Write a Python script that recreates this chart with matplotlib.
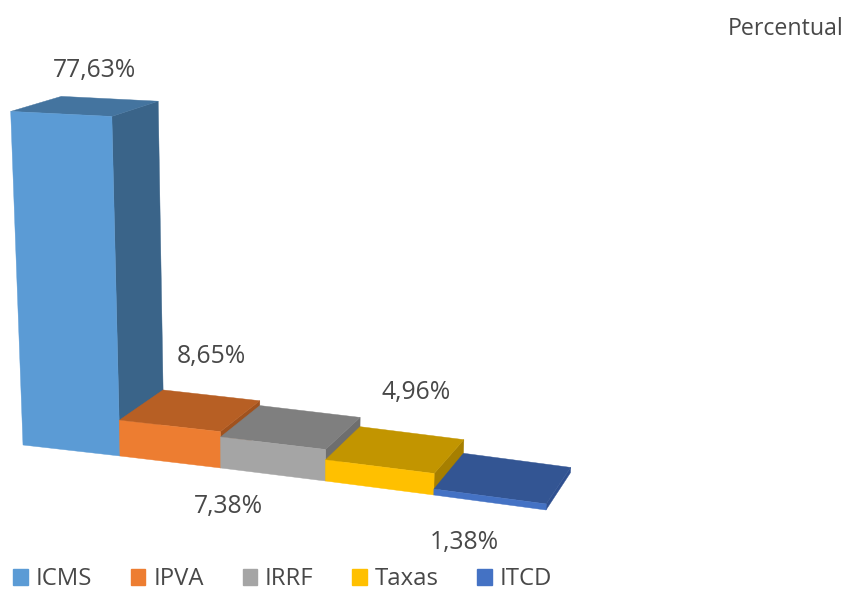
import matplotlib
matplotlib.use("Agg")
import matplotlib.pyplot as plt
from matplotlib.patches import Polygon, Patch

categories = ["ICMS", "IPVA", "IRRF", "Taxas", "ITCD"]
values = [77.63, 8.65, 7.38, 4.96, 1.38]
value_labels = ["77,63%", "8,65%", "7,38%", "4,96%", "1,38%"]
front_colors = ["#5B9BD5", "#ED7D31", "#A5A5A5", "#FFC000", "#4472C4"]
top_colors = ["#44749F", "#B75F24", "#7F7F7F", "#C29500", "#335593"]
side_colors = ["#3A6489", "#A0521E", "#6E6E6E", "#A67F00", "#2F5090"]
label_xy = [(94, 70), (211, 356), (228, 507), (416, 392), (464, 543)]


def base(x):
    """Front floor point of category edge x, in figure pixels."""
    return 23 + 97 * x + 1.9 * x * (x - 1), 445 + 11 * x + 0.5 * x * (x - 1)


def height(v, x):
    return 4.03 * v * (1 + 0.018 * x) / (1 - 0.0008 * v)


def project(x, v, back=False):
    bx, by = base(x)
    h = height(v, x)
    px = bx + (bx - 300) / 7500 * h
    py = by - h
    if back:
        px += 48 - 0.045 * (bx - 23) + 0.008 * h
        py -= (33.5 + 0.007 * bx) / (1 + 0.0037 * h)
    return px, py


fig = plt.figure(figsize=(8.44, 5.92), dpi=100)
ax = fig.add_axes([0, 0, 1, 1])
ax.set_xlim(0, 844)
ax.set_ylim(592, 0)
ax.axis("off")

for i, v in enumerate(values):
    x0, x1 = i, i + 1
    front = [project(x0, v), project(x1, v), project(x1, 0), project(x0, 0)]
    top = [project(x0, v), project(x0, v, True), project(x1, v, True), project(x1, v)]
    side = [project(x1, v), project(x1, v, True), project(x1, 0, True), project(x1, 0)]
    z = 2 + i * 3
    ax.add_patch(Polygon(side, closed=True, fc=side_colors[i], ec=side_colors[i], lw=0.3, zorder=z))
    ax.add_patch(Polygon(top, closed=True, fc=top_colors[i], ec=top_colors[i], lw=0.3, zorder=z + 1))
    ax.add_patch(Polygon(front, closed=True, fc=front_colors[i], ec=front_colors[i], lw=0.3, zorder=z + 2))

font = dict(family="Open Sans", color="#484848", fontsize=17.8)
for (lx, ly), s in zip(label_xy, value_labels):
    ax.text(lx, ly, s, ha="center", va="center", **font)
ax.text(843, 29, "Percentual", ha="right", va="center", family="Open Sans",
        color="#484848", fontsize=16.7)

handles = [Patch(fc=c, ec=c, label=n) for c, n in zip(front_colors, categories)]
leg = ax.legend(handles=handles, ncol=5, frameon=False, loc="lower left",
                bbox_to_anchor=(0.013, -0.003), prop={"family": "Open Sans", "size": 17.2},
                handlelength=0.6, handleheight=0.6, handletextpad=0.34,
                columnspacing=1.62, labelcolor="#484848", borderpad=0.1, borderaxespad=0)

fig.savefig("out.png", dpi=100)
